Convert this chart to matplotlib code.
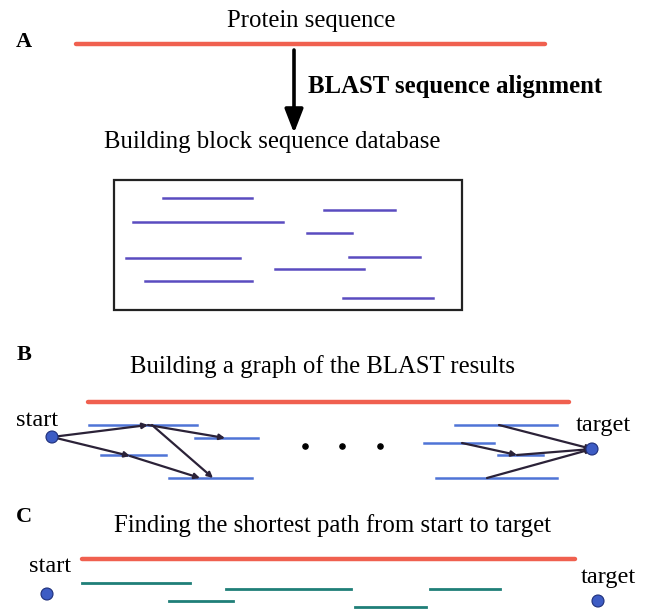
import matplotlib
matplotlib.use("Agg")
import matplotlib.pyplot as plt
from matplotlib.patches import Rectangle, Circle

# panel A: building block fragments in the database box (x0, x1, y)
db_x0 = [163, 324, 133, 307, 126, 349, 275, 145, 343]
db_x1 = [252, 395, 283, 352, 240, 420, 364, 252, 433]
db_y = [198, 210, 222, 233, 258, 257, 269, 281, 298]

# panel B: BLAST hits (left group and right group)
hit_x0 = [89, 195, 101, 169, 455, 424, 498, 436]
hit_x1 = [197, 258, 166, 252, 557, 494, 543, 557]
hit_y = [425, 438, 455, 478, 425, 443, 455, 478]

# panel B: graph edges (from -> to)
edge_from = [(52, 437), (52, 437), (130, 456), (148, 425), (152, 425),
             (499, 425), (462, 443), (517, 455), (487, 478)]
edge_to = [(148, 425), (130, 456), (200, 478), (225, 438), (213, 478),
           (592, 449), (517, 455), (592, 449), (592, 449)]

dots_x = [305, 342, 380]
dots_y = [446, 446, 446]

# panel C: shortest path fragments
path_x0 = [82, 169, 226, 355, 430]
path_x1 = [190, 233, 351, 426, 500]
path_y = [583, 601, 589, 607, 589]

# query sequence (red) lines per panel
query_x0 = [76, 88, 82]
query_x1 = [545, 569, 575]
query_y = [44, 402, 559]

RED = "#f0604f"
PURPLE = "#5a4cc0"
BLUE = "#4f74d6"
TEAL = "#1f7f78"
EDGE = "#2b2238"
NODE = "#3d5cc4"
SERIF = "Liberation Serif"
FS = 17.8

fig = plt.figure(figsize=(6.47, 6.09), dpi=100)
ax = fig.add_axes([0, 0, 1, 1])
ax.set_xlim(0, 647)
ax.set_ylim(609, 0)
ax.axis("off")

for x0, x1, y in zip(query_x0, query_x1, query_y):
    ax.plot([x0, x1], [y, y], color=RED, lw=3.2, solid_capstyle="round")

# ---- panel A
ax.text(24, 42, "A", fontsize=16, fontweight="bold", family=SERIF, ha="center", va="center")
ax.text(311, 21, "Protein sequence", fontsize=FS, family=SERIF, ha="center", va="center")
ax.annotate("", xy=(294, 133), xytext=(294, 50),
            arrowprops=dict(arrowstyle="-|>,head_length=0.9,head_width=0.35", lw=2.6,
                            color="black", mutation_scale=16, shrinkA=0, shrinkB=0))
ax.text(308, 86, "BLAST sequence alignment", fontsize=FS, fontweight="bold",
        family=SERIF, ha="left", va="center")
ax.text(272, 142, "Building block sequence database", fontsize=FS, family=SERIF,
        ha="center", va="center")
ax.add_patch(Rectangle((114, 180), 348, 130, fill=False, lw=1.6, edgecolor="#222222"))
for x0, x1, y in zip(db_x0, db_x1, db_y):
    ax.plot([x0, x1], [y, y], color=PURPLE, lw=1.8)

# ---- panel B
ax.text(24, 355, "B", fontsize=16, fontweight="bold", family=SERIF, ha="center", va="center")
ax.text(323, 367, "Building a graph of the BLAST results", fontsize=FS, family=SERIF,
        ha="center", va="center")
for x0, x1, y in zip(hit_x0, hit_x1, hit_y):
    ax.plot([x0, x1], [y, y], color=BLUE, lw=1.8)
for p, q in zip(edge_from, edge_to):
    ax.annotate("", xy=q, xytext=p,
                arrowprops=dict(arrowstyle="-|>", lw=1.6, color=EDGE,
                                mutation_scale=8, shrinkA=0, shrinkB=0))
ax.scatter(dots_x, dots_y, s=14, color="black", zorder=3)
ax.add_patch(Circle((52, 437), 6, facecolor=NODE, edgecolor="#1e2f7a", lw=0.8, zorder=4))
ax.add_patch(Circle((592, 449), 6, facecolor=NODE, edgecolor="#1e2f7a", lw=0.8, zorder=4))
ax.text(37, 420, "start", fontsize=17.5, family=SERIF, ha="center", va="center")
ax.text(603, 426, "target", fontsize=17.5, family=SERIF, ha="center", va="center")

# ---- panel C
ax.text(24, 517, "C", fontsize=16, fontweight="bold", family=SERIF, ha="center", va="center")
ax.text(333, 526, "Finding the shortest path from start to target", fontsize=FS,
        family=SERIF, ha="center", va="center")
for x0, x1, y in zip(path_x0, path_x1, path_y):
    ax.plot([x0, x1], [y, y], color=TEAL, lw=2.0)
ax.add_patch(Circle((47, 594), 6, facecolor=NODE, edgecolor="#1e2f7a", lw=0.8, zorder=4))
ax.add_patch(Circle((598, 601), 6, facecolor=NODE, edgecolor="#1e2f7a", lw=0.8, zorder=4))
ax.text(50, 566, "start", fontsize=17.5, family=SERIF, ha="center", va="center")
ax.text(608, 578, "target", fontsize=17.5, family=SERIF, ha="center", va="center")

fig.savefig("out.png", dpi=100)
